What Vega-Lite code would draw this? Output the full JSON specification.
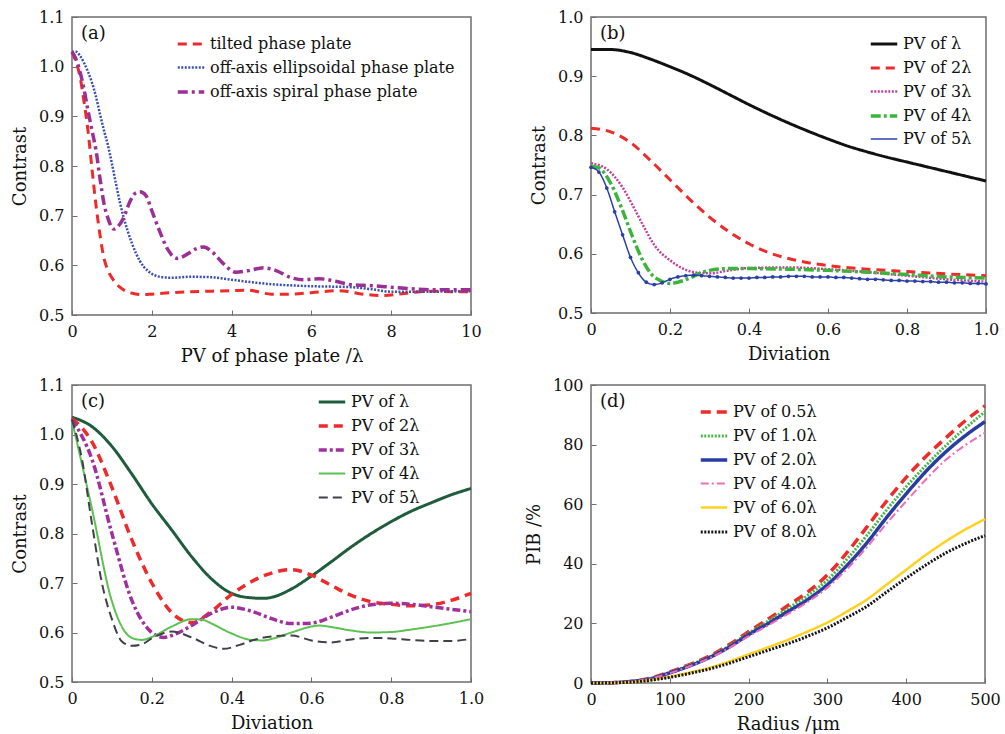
{
 "$schema": "https://vega.github.io/schema/vega-lite/v6.json",
 "background": "white",
 "padding": {"left": 10, "top": 8, "right": 5, "bottom": 3},
 "columns": 2,
 "bounds": "flush",
 "spacing": {"row": 70, "column": 120},
 "resolve": {"scale": {"color": "independent", "strokeDash": "independent", "strokeWidth": "independent"}, "legend": {"color": "independent", "strokeDash": "independent", "strokeWidth": "independent"}},
 "config": {
  "font": "DejaVu Serif",
  "view": {"stroke": "#6e6e6e", "strokeWidth": 1.5},
  "axis": {"domain": false, "grid": false, "labelFont": "DejaVu Serif", "labelFontSize": 16, "labelColor": "#111", "labelFlush": false, "labelOverlap": false, "titleFont": "DejaVu Serif", "titleFontSize": 18, "titleFontWeight": "normal", "titleColor": "#111", "tickColor": "#6e6e6e", "tickSize": -5, "labelPadding": 13, "titlePadding": 8},
  "axisY": {"titlePadding": 9},
  "legend": {"labelFont": "DejaVu Serif", "labelFontSize": 16, "labelColor": "#111", "labelLimit": 500, "symbolType": "stroke", "symbolSize": 700, "rowPadding": 1, "padding": 0, "labelOffset": 4},
  "title": {"font": "DejaVu Serif", "fontSize": 18, "fontWeight": "normal", "color": "#111", "anchor": "start", "frame": "group", "baseline": "top", "offset": -34, "dx": 9}
 },
 "datasets": {
  "a": [
   {"s":"tilted phase plate","x":0,"y":1.03},{"s":"tilted phase plate","x":0.1,"y":1.01},{"s":"tilted phase plate","x":0.2,"y":0.98},{"s":"tilted phase plate","x":0.3,"y":0.93},{"s":"tilted phase plate","x":0.4,"y":0.872},{"s":"tilted phase plate","x":0.5,"y":0.795},{"s":"tilted phase plate","x":0.6,"y":0.722},{"s":"tilted phase plate","x":0.7,"y":0.662},{"s":"tilted phase plate","x":0.8,"y":0.615},{"s":"tilted phase plate","x":0.9,"y":0.59},{"s":"tilted phase plate","x":1.0,"y":0.575},{"s":"tilted phase plate","x":1.2,"y":0.556},{"s":"tilted phase plate","x":1.5,"y":0.544},{"s":"tilted phase plate","x":1.75,"y":0.541},{"s":"tilted phase plate","x":2,"y":0.542},{"s":"tilted phase plate","x":2.5,"y":0.545},{"s":"tilted phase plate","x":3,"y":0.547},{"s":"tilted phase plate","x":3.5,"y":0.548},{"s":"tilted phase plate","x":4,"y":0.549},{"s":"tilted phase plate","x":4.4,"y":0.55},{"s":"tilted phase plate","x":5,"y":0.542},{"s":"tilted phase plate","x":5.5,"y":0.542},{"s":"tilted phase plate","x":6,"y":0.545},{"s":"tilted phase plate","x":6.7,"y":0.549},{"s":"tilted phase plate","x":7.3,"y":0.542},{"s":"tilted phase plate","x":7.8,"y":0.539},{"s":"tilted phase plate","x":8.2,"y":0.542},{"s":"tilted phase plate","x":8.6,"y":0.546},{"s":"tilted phase plate","x":9,"y":0.548},{"s":"tilted phase plate","x":9.5,"y":0.547},{"s":"tilted phase plate","x":10,"y":0.547},
   {"s":"off-axis ellipsoidal phase plate","x":0,"y":1.03},{"s":"off-axis ellipsoidal phase plate","x":0.1,"y":1.03},{"s":"off-axis ellipsoidal phase plate","x":0.2,"y":1.022},{"s":"off-axis ellipsoidal phase plate","x":0.3,"y":1.008},{"s":"off-axis ellipsoidal phase plate","x":0.4,"y":0.99},{"s":"off-axis ellipsoidal phase plate","x":0.5,"y":0.968},{"s":"off-axis ellipsoidal phase plate","x":0.6,"y":0.94},{"s":"off-axis ellipsoidal phase plate","x":0.7,"y":0.905},{"s":"off-axis ellipsoidal phase plate","x":0.8,"y":0.872},{"s":"off-axis ellipsoidal phase plate","x":0.9,"y":0.842},{"s":"off-axis ellipsoidal phase plate","x":1.0,"y":0.805},{"s":"off-axis ellipsoidal phase plate","x":1.1,"y":0.765},{"s":"off-axis ellipsoidal phase plate","x":1.2,"y":0.727},{"s":"off-axis ellipsoidal phase plate","x":1.3,"y":0.695},{"s":"off-axis ellipsoidal phase plate","x":1.4,"y":0.668},{"s":"off-axis ellipsoidal phase plate","x":1.5,"y":0.645},{"s":"off-axis ellipsoidal phase plate","x":1.6,"y":0.625},{"s":"off-axis ellipsoidal phase plate","x":1.7,"y":0.609},{"s":"off-axis ellipsoidal phase plate","x":1.8,"y":0.597},{"s":"off-axis ellipsoidal phase plate","x":1.9,"y":0.589},{"s":"off-axis ellipsoidal phase plate","x":2.0,"y":0.583},{"s":"off-axis ellipsoidal phase plate","x":2.2,"y":0.577},{"s":"off-axis ellipsoidal phase plate","x":2.5,"y":0.575},{"s":"off-axis ellipsoidal phase plate","x":3.0,"y":0.577},{"s":"off-axis ellipsoidal phase plate","x":3.5,"y":0.576},{"s":"off-axis ellipsoidal phase plate","x":4.0,"y":0.571},{"s":"off-axis ellipsoidal phase plate","x":4.5,"y":0.566},{"s":"off-axis ellipsoidal phase plate","x":5.0,"y":0.562},{"s":"off-axis ellipsoidal phase plate","x":6.0,"y":0.558},{"s":"off-axis ellipsoidal phase plate","x":7.0,"y":0.556},{"s":"off-axis ellipsoidal phase plate","x":7.5,"y":0.552},{"s":"off-axis ellipsoidal phase plate","x":8.0,"y":0.547},{"s":"off-axis ellipsoidal phase plate","x":9.0,"y":0.547},{"s":"off-axis ellipsoidal phase plate","x":10,"y":0.548},
   {"s":"off-axis spiral phase plate","x":0,"y":1.03},{"s":"off-axis spiral phase plate","x":0.1,"y":1.015},{"s":"off-axis spiral phase plate","x":0.2,"y":0.99},{"s":"off-axis spiral phase plate","x":0.3,"y":0.955},{"s":"off-axis spiral phase plate","x":0.4,"y":0.912},{"s":"off-axis spiral phase plate","x":0.5,"y":0.872},{"s":"off-axis spiral phase plate","x":0.6,"y":0.832},{"s":"off-axis spiral phase plate","x":0.7,"y":0.776},{"s":"off-axis spiral phase plate","x":0.8,"y":0.725},{"s":"off-axis spiral phase plate","x":0.9,"y":0.695},{"s":"off-axis spiral phase plate","x":1.0,"y":0.676},{"s":"off-axis spiral phase plate","x":1.05,"y":0.673},{"s":"off-axis spiral phase plate","x":1.15,"y":0.678},{"s":"off-axis spiral phase plate","x":1.3,"y":0.697},{"s":"off-axis spiral phase plate","x":1.45,"y":0.728},{"s":"off-axis spiral phase plate","x":1.6,"y":0.746},{"s":"off-axis spiral phase plate","x":1.7,"y":0.748},{"s":"off-axis spiral phase plate","x":1.85,"y":0.741},{"s":"off-axis spiral phase plate","x":2.0,"y":0.71},{"s":"off-axis spiral phase plate","x":2.2,"y":0.668},{"s":"off-axis spiral phase plate","x":2.4,"y":0.632},{"s":"off-axis spiral phase plate","x":2.64,"y":0.614},{"s":"off-axis spiral phase plate","x":2.9,"y":0.623},{"s":"off-axis spiral phase plate","x":3.1,"y":0.633},{"s":"off-axis spiral phase plate","x":3.3,"y":0.637},{"s":"off-axis spiral phase plate","x":3.5,"y":0.628},{"s":"off-axis spiral phase plate","x":3.8,"y":0.603},{"s":"off-axis spiral phase plate","x":4.1,"y":0.586},{"s":"off-axis spiral phase plate","x":4.4,"y":0.589},{"s":"off-axis spiral phase plate","x":4.8,"y":0.595},{"s":"off-axis spiral phase plate","x":5.1,"y":0.59},{"s":"off-axis spiral phase plate","x":5.5,"y":0.575},{"s":"off-axis spiral phase plate","x":5.8,"y":0.571},{"s":"off-axis spiral phase plate","x":6.2,"y":0.573},{"s":"off-axis spiral phase plate","x":6.6,"y":0.568},{"s":"off-axis spiral phase plate","x":7.0,"y":0.561},{"s":"off-axis spiral phase plate","x":7.5,"y":0.559},{"s":"off-axis spiral phase plate","x":8.0,"y":0.556},{"s":"off-axis spiral phase plate","x":8.5,"y":0.553},{"s":"off-axis spiral phase plate","x":9.0,"y":0.551},{"s":"off-axis spiral phase plate","x":10,"y":0.551}
  ],
  "b": [
   {"s":"PV of λ","x":0,"y":0.945},{"s":"PV of λ","x":0.05,"y":0.945},{"s":"PV of λ","x":0.1,"y":0.94},{"s":"PV of λ","x":0.15,"y":0.929},{"s":"PV of λ","x":0.2,"y":0.916},{"s":"PV of λ","x":0.25,"y":0.902},{"s":"PV of λ","x":0.3,"y":0.886},{"s":"PV of λ","x":0.35,"y":0.869},{"s":"PV of λ","x":0.4,"y":0.852},{"s":"PV of λ","x":0.45,"y":0.836},{"s":"PV of λ","x":0.5,"y":0.821},{"s":"PV of λ","x":0.55,"y":0.807},{"s":"PV of λ","x":0.6,"y":0.794},{"s":"PV of λ","x":0.65,"y":0.782},{"s":"PV of λ","x":0.7,"y":0.772},{"s":"PV of λ","x":0.75,"y":0.763},{"s":"PV of λ","x":0.8,"y":0.755},{"s":"PV of λ","x":0.85,"y":0.747},{"s":"PV of λ","x":0.9,"y":0.739},{"s":"PV of λ","x":0.95,"y":0.731},{"s":"PV of λ","x":1.0,"y":0.723},
   {"s":"PV of 2λ","x":0,"y":0.812},{"s":"PV of 2λ","x":0.05,"y":0.806},{"s":"PV of 2λ","x":0.1,"y":0.788},{"s":"PV of 2λ","x":0.15,"y":0.758},{"s":"PV of 2λ","x":0.2,"y":0.725},{"s":"PV of 2λ","x":0.25,"y":0.692},{"s":"PV of 2λ","x":0.3,"y":0.662},{"s":"PV of 2λ","x":0.35,"y":0.637},{"s":"PV of 2λ","x":0.4,"y":0.617},{"s":"PV of 2λ","x":0.45,"y":0.602},{"s":"PV of 2λ","x":0.5,"y":0.592},{"s":"PV of 2λ","x":0.55,"y":0.585},{"s":"PV of 2λ","x":0.6,"y":0.58},{"s":"PV of 2λ","x":0.7,"y":0.574},{"s":"PV of 2λ","x":0.8,"y":0.57},{"s":"PV of 2λ","x":0.9,"y":0.566},{"s":"PV of 2λ","x":1.0,"y":0.563},
   {"s":"PV of 3λ","x":0,"y":0.753},{"s":"PV of 3λ","x":0.04,"y":0.743},{"s":"PV of 3λ","x":0.08,"y":0.712},{"s":"PV of 3λ","x":0.11,"y":0.676},{"s":"PV of 3λ","x":0.14,"y":0.638},{"s":"PV of 3λ","x":0.16,"y":0.615},{"s":"PV of 3λ","x":0.2,"y":0.589},{"s":"PV of 3λ","x":0.23,"y":0.576},{"s":"PV of 3λ","x":0.26,"y":0.569},{"s":"PV of 3λ","x":0.3,"y":0.567},{"s":"PV of 3λ","x":0.35,"y":0.572},{"s":"PV of 3λ","x":0.4,"y":0.576},{"s":"PV of 3λ","x":0.5,"y":0.577},{"s":"PV of 3λ","x":0.6,"y":0.574},{"s":"PV of 3λ","x":0.7,"y":0.569},{"s":"PV of 3λ","x":0.8,"y":0.563},{"s":"PV of 3λ","x":0.9,"y":0.557},{"s":"PV of 3λ","x":1.0,"y":0.553},
   {"s":"PV of 4λ","x":0,"y":0.748},{"s":"PV of 4λ","x":0.02,"y":0.745},{"s":"PV of 4λ","x":0.05,"y":0.719},{"s":"PV of 4λ","x":0.08,"y":0.673},{"s":"PV of 4λ","x":0.105,"y":0.629},{"s":"PV of 4λ","x":0.13,"y":0.59},{"s":"PV of 4λ","x":0.155,"y":0.564},{"s":"PV of 4λ","x":0.175,"y":0.555},{"s":"PV of 4λ","x":0.2,"y":0.55},{"s":"PV of 4λ","x":0.22,"y":0.552},{"s":"PV of 4λ","x":0.25,"y":0.559},{"s":"PV of 4λ","x":0.275,"y":0.567},{"s":"PV of 4λ","x":0.3,"y":0.572},{"s":"PV of 4λ","x":0.35,"y":0.575},{"s":"PV of 4λ","x":0.4,"y":0.575},{"s":"PV of 4λ","x":0.5,"y":0.574},{"s":"PV of 4λ","x":0.6,"y":0.572},{"s":"PV of 4λ","x":0.7,"y":0.569},{"s":"PV of 4λ","x":0.8,"y":0.565},{"s":"PV of 4λ","x":0.9,"y":0.561},{"s":"PV of 4λ","x":1.0,"y":0.559},
   {"s":"PV of 5λ","x":0,"y":0.746},{"s":"PV of 5λ","x":0.02,"y":0.738},{"s":"PV of 5λ","x":0.04,"y":0.711},{"s":"PV of 5λ","x":0.06,"y":0.671},{"s":"PV of 5λ","x":0.08,"y":0.632},{"s":"PV of 5λ","x":0.1,"y":0.594},{"s":"PV of 5λ","x":0.12,"y":0.568},{"s":"PV of 5λ","x":0.14,"y":0.552},{"s":"PV of 5λ","x":0.16,"y":0.548},{"s":"PV of 5λ","x":0.18,"y":0.551},{"s":"PV of 5λ","x":0.2,"y":0.557},{"s":"PV of 5λ","x":0.22,"y":0.561},{"s":"PV of 5λ","x":0.24,"y":0.563},{"s":"PV of 5λ","x":0.26,"y":0.564},{"s":"PV of 5λ","x":0.28,"y":0.563},{"s":"PV of 5λ","x":0.3,"y":0.562},{"s":"PV of 5λ","x":0.32,"y":0.561},{"s":"PV of 5λ","x":0.34,"y":0.56},{"s":"PV of 5λ","x":0.36,"y":0.559},{"s":"PV of 5λ","x":0.38,"y":0.559},{"s":"PV of 5λ","x":0.4,"y":0.559},{"s":"PV of 5λ","x":0.42,"y":0.56},{"s":"PV of 5λ","x":0.44,"y":0.56},{"s":"PV of 5λ","x":0.46,"y":0.561},{"s":"PV of 5λ","x":0.48,"y":0.561},{"s":"PV of 5λ","x":0.5,"y":0.562},{"s":"PV of 5λ","x":0.52,"y":0.562},{"s":"PV of 5λ","x":0.54,"y":0.562},{"s":"PV of 5λ","x":0.56,"y":0.561},{"s":"PV of 5λ","x":0.58,"y":0.561},{"s":"PV of 5λ","x":0.6,"y":0.561},{"s":"PV of 5λ","x":0.62,"y":0.56},{"s":"PV of 5λ","x":0.64,"y":0.56},{"s":"PV of 5λ","x":0.66,"y":0.559},{"s":"PV of 5λ","x":0.68,"y":0.558},{"s":"PV of 5λ","x":0.7,"y":0.557},{"s":"PV of 5λ","x":0.72,"y":0.557},{"s":"PV of 5λ","x":0.74,"y":0.556},{"s":"PV of 5λ","x":0.76,"y":0.555},{"s":"PV of 5λ","x":0.78,"y":0.555},{"s":"PV of 5λ","x":0.8,"y":0.554},{"s":"PV of 5λ","x":0.82,"y":0.554},{"s":"PV of 5λ","x":0.84,"y":0.553},{"s":"PV of 5λ","x":0.86,"y":0.553},{"s":"PV of 5λ","x":0.88,"y":0.552},{"s":"PV of 5λ","x":0.9,"y":0.552},{"s":"PV of 5λ","x":0.92,"y":0.551},{"s":"PV of 5λ","x":0.94,"y":0.551},{"s":"PV of 5λ","x":0.96,"y":0.55},{"s":"PV of 5λ","x":0.98,"y":0.55},{"s":"PV of 5λ","x":1.0,"y":0.549}
  ],
  "c": [
   {"s":"PV of λ","x":0,"y":1.035},{"s":"PV of λ","x":0.05,"y":1.016},{"s":"PV of λ","x":0.1,"y":0.976},{"s":"PV of λ","x":0.15,"y":0.92},{"s":"PV of λ","x":0.2,"y":0.86},{"s":"PV of λ","x":0.25,"y":0.807},{"s":"PV of λ","x":0.3,"y":0.753},{"s":"PV of λ","x":0.35,"y":0.708},{"s":"PV of λ","x":0.4,"y":0.679},{"s":"PV of λ","x":0.45,"y":0.67},{"s":"PV of λ","x":0.48,"y":0.669},{"s":"PV of λ","x":0.5,"y":0.671},{"s":"PV of λ","x":0.55,"y":0.688},{"s":"PV of λ","x":0.6,"y":0.714},{"s":"PV of λ","x":0.65,"y":0.743},{"s":"PV of λ","x":0.7,"y":0.773},{"s":"PV of λ","x":0.75,"y":0.8},{"s":"PV of λ","x":0.8,"y":0.824},{"s":"PV of λ","x":0.85,"y":0.845},{"s":"PV of λ","x":0.9,"y":0.862},{"s":"PV of λ","x":0.95,"y":0.878},{"s":"PV of λ","x":1.0,"y":0.891},
   {"s":"PV of 2λ","x":0,"y":1.033},{"s":"PV of 2λ","x":0.05,"y":0.985},{"s":"PV of 2λ","x":0.1,"y":0.893},{"s":"PV of 2λ","x":0.15,"y":0.787},{"s":"PV of 2λ","x":0.2,"y":0.7},{"s":"PV of 2λ","x":0.25,"y":0.64},{"s":"PV of 2λ","x":0.3,"y":0.62},{"s":"PV of 2λ","x":0.35,"y":0.643},{"s":"PV of 2λ","x":0.4,"y":0.677},{"s":"PV of 2λ","x":0.45,"y":0.703},{"s":"PV of 2λ","x":0.5,"y":0.72},{"s":"PV of 2λ","x":0.55,"y":0.727},{"s":"PV of 2λ","x":0.6,"y":0.716},{"s":"PV of 2λ","x":0.65,"y":0.695},{"s":"PV of 2λ","x":0.7,"y":0.675},{"s":"PV of 2λ","x":0.75,"y":0.662},{"s":"PV of 2λ","x":0.8,"y":0.657},{"s":"PV of 2λ","x":0.85,"y":0.654},{"s":"PV of 2λ","x":0.9,"y":0.656},{"s":"PV of 2λ","x":0.95,"y":0.665},{"s":"PV of 2λ","x":1.0,"y":0.679},
   {"s":"PV of 3λ","x":0,"y":1.03},{"s":"PV of 3λ","x":0.05,"y":0.95},{"s":"PV of 3λ","x":0.1,"y":0.8},{"s":"PV of 3λ","x":0.15,"y":0.665},{"s":"PV of 3λ","x":0.2,"y":0.6},{"s":"PV of 3λ","x":0.23,"y":0.59},{"s":"PV of 3λ","x":0.25,"y":0.594},{"s":"PV of 3λ","x":0.3,"y":0.614},{"s":"PV of 3λ","x":0.35,"y":0.639},{"s":"PV of 3λ","x":0.4,"y":0.651},{"s":"PV of 3λ","x":0.45,"y":0.643},{"s":"PV of 3λ","x":0.5,"y":0.628},{"s":"PV of 3λ","x":0.55,"y":0.618},{"s":"PV of 3λ","x":0.6,"y":0.619},{"s":"PV of 3λ","x":0.65,"y":0.631},{"s":"PV of 3λ","x":0.7,"y":0.646},{"s":"PV of 3λ","x":0.75,"y":0.656},{"s":"PV of 3λ","x":0.8,"y":0.659},{"s":"PV of 3λ","x":0.85,"y":0.657},{"s":"PV of 3λ","x":0.9,"y":0.652},{"s":"PV of 3λ","x":0.95,"y":0.647},{"s":"PV of 3λ","x":1.0,"y":0.642},
   {"s":"PV of 4λ","x":0,"y":1.028},{"s":"PV of 4λ","x":0.05,"y":0.85},{"s":"PV of 4λ","x":0.1,"y":0.663},{"s":"PV of 4λ","x":0.15,"y":0.589},{"s":"PV of 4λ","x":0.175,"y":0.585},{"s":"PV of 4λ","x":0.2,"y":0.591},{"s":"PV of 4λ","x":0.25,"y":0.612},{"s":"PV of 4λ","x":0.3,"y":0.627},{"s":"PV of 4λ","x":0.33,"y":0.625},{"s":"PV of 4λ","x":0.35,"y":0.618},{"s":"PV of 4λ","x":0.4,"y":0.598},{"s":"PV of 4λ","x":0.45,"y":0.585},{"s":"PV of 4λ","x":0.48,"y":0.584},{"s":"PV of 4λ","x":0.5,"y":0.587},{"s":"PV of 4λ","x":0.55,"y":0.6},{"s":"PV of 4λ","x":0.6,"y":0.612},{"s":"PV of 4λ","x":0.62,"y":0.614},{"s":"PV of 4λ","x":0.65,"y":0.611},{"s":"PV of 4λ","x":0.7,"y":0.604},{"s":"PV of 4λ","x":0.75,"y":0.6},{"s":"PV of 4λ","x":0.8,"y":0.601},{"s":"PV of 4λ","x":0.85,"y":0.606},{"s":"PV of 4λ","x":0.9,"y":0.612},{"s":"PV of 4λ","x":0.95,"y":0.619},{"s":"PV of 4λ","x":1.0,"y":0.627},
   {"s":"PV of 5λ","x":0,"y":1.03},{"s":"PV of 5λ","x":0.025,"y":0.95},{"s":"PV of 5λ","x":0.05,"y":0.82},{"s":"PV of 5λ","x":0.075,"y":0.7},{"s":"PV of 5λ","x":0.1,"y":0.627},{"s":"PV of 5λ","x":0.125,"y":0.582},{"s":"PV of 5λ","x":0.15,"y":0.573},{"s":"PV of 5λ","x":0.175,"y":0.576},{"s":"PV of 5λ","x":0.2,"y":0.588},{"s":"PV of 5λ","x":0.25,"y":0.602},{"s":"PV of 5λ","x":0.3,"y":0.59},{"s":"PV of 5λ","x":0.35,"y":0.572},{"s":"PV of 5λ","x":0.38,"y":0.567},{"s":"PV of 5λ","x":0.42,"y":0.575},{"s":"PV of 5λ","x":0.46,"y":0.586},{"s":"PV of 5λ","x":0.5,"y":0.592},{"s":"PV of 5λ","x":0.55,"y":0.594},{"s":"PV of 5λ","x":0.6,"y":0.584},{"s":"PV of 5λ","x":0.65,"y":0.58},{"s":"PV of 5λ","x":0.7,"y":0.586},{"s":"PV of 5λ","x":0.75,"y":0.589},{"s":"PV of 5λ","x":0.8,"y":0.588},{"s":"PV of 5λ","x":0.85,"y":0.585},{"s":"PV of 5λ","x":0.9,"y":0.583},{"s":"PV of 5λ","x":0.95,"y":0.583},{"s":"PV of 5λ","x":1.0,"y":0.587}
  ],
  "d": [
   {"s":"PV of 0.5λ","x":0,"y":0},{"s":"PV of 0.5λ","x":25,"y":0.1},{"s":"PV of 0.5λ","x":50,"y":0.5},{"s":"PV of 0.5λ","x":75,"y":1.6},{"s":"PV of 0.5λ","x":100,"y":3.7},{"s":"PV of 0.5λ","x":125,"y":6.2},{"s":"PV of 0.5λ","x":150,"y":9},{"s":"PV of 0.5λ","x":175,"y":12.8},{"s":"PV of 0.5λ","x":200,"y":17.2},{"s":"PV of 0.5λ","x":225,"y":21.5},{"s":"PV of 0.5λ","x":250,"y":26},{"s":"PV of 0.5λ","x":275,"y":30.5},{"s":"PV of 0.5λ","x":300,"y":36.3},{"s":"PV of 0.5λ","x":325,"y":43.8},{"s":"PV of 0.5λ","x":350,"y":52.3},{"s":"PV of 0.5λ","x":375,"y":61},{"s":"PV of 0.5λ","x":400,"y":69},{"s":"PV of 0.5λ","x":425,"y":76},{"s":"PV of 0.5λ","x":450,"y":82.2},{"s":"PV of 0.5λ","x":475,"y":88},{"s":"PV of 0.5λ","x":500,"y":93},
   {"s":"PV of 1.0λ","x":0,"y":0},{"s":"PV of 1.0λ","x":25,"y":0.1},{"s":"PV of 1.0λ","x":50,"y":0.5},{"s":"PV of 1.0λ","x":75,"y":1.5},{"s":"PV of 1.0λ","x":100,"y":3.5},{"s":"PV of 1.0λ","x":125,"y":6},{"s":"PV of 1.0λ","x":150,"y":8.7},{"s":"PV of 1.0λ","x":175,"y":12.4},{"s":"PV of 1.0λ","x":200,"y":16.7},{"s":"PV of 1.0λ","x":225,"y":20.8},{"s":"PV of 1.0λ","x":250,"y":25},{"s":"PV of 1.0λ","x":275,"y":29.4},{"s":"PV of 1.0λ","x":300,"y":34.6},{"s":"PV of 1.0λ","x":325,"y":41.6},{"s":"PV of 1.0λ","x":350,"y":49.5},{"s":"PV of 1.0λ","x":375,"y":58},{"s":"PV of 1.0λ","x":400,"y":65.9},{"s":"PV of 1.0λ","x":425,"y":73},{"s":"PV of 1.0λ","x":450,"y":79.6},{"s":"PV of 1.0λ","x":475,"y":85.5},{"s":"PV of 1.0λ","x":500,"y":91},
   {"s":"PV of 2.0λ","x":0,"y":0},{"s":"PV of 2.0λ","x":25,"y":0.1},{"s":"PV of 2.0λ","x":50,"y":0.5},{"s":"PV of 2.0λ","x":75,"y":1.4},{"s":"PV of 2.0λ","x":100,"y":3.4},{"s":"PV of 2.0λ","x":125,"y":5.7},{"s":"PV of 2.0λ","x":150,"y":8.5},{"s":"PV of 2.0λ","x":175,"y":12},{"s":"PV of 2.0λ","x":200,"y":16.2},{"s":"PV of 2.0λ","x":225,"y":20},{"s":"PV of 2.0λ","x":250,"y":24},{"s":"PV of 2.0λ","x":275,"y":28},{"s":"PV of 2.0λ","x":300,"y":33},{"s":"PV of 2.0λ","x":325,"y":39.5},{"s":"PV of 2.0λ","x":350,"y":47},{"s":"PV of 2.0λ","x":375,"y":55.5},{"s":"PV of 2.0λ","x":400,"y":63.5},{"s":"PV of 2.0λ","x":425,"y":71},{"s":"PV of 2.0λ","x":450,"y":77.5},{"s":"PV of 2.0λ","x":475,"y":83},{"s":"PV of 2.0λ","x":500,"y":87.7},
   {"s":"PV of 4.0λ","x":0,"y":0},{"s":"PV of 4.0λ","x":25,"y":0.1},{"s":"PV of 4.0λ","x":50,"y":0.5},{"s":"PV of 4.0λ","x":75,"y":1.4},{"s":"PV of 4.0λ","x":100,"y":3.3},{"s":"PV of 4.0λ","x":125,"y":5.6},{"s":"PV of 4.0λ","x":150,"y":8.3},{"s":"PV of 4.0λ","x":175,"y":11.7},{"s":"PV of 4.0λ","x":200,"y":15.7},{"s":"PV of 4.0λ","x":225,"y":19.4},{"s":"PV of 4.0λ","x":250,"y":23.2},{"s":"PV of 4.0λ","x":275,"y":27.2},{"s":"PV of 4.0λ","x":300,"y":32},{"s":"PV of 4.0λ","x":325,"y":38.3},{"s":"PV of 4.0λ","x":350,"y":45.5},{"s":"PV of 4.0λ","x":375,"y":53.5},{"s":"PV of 4.0λ","x":400,"y":61},{"s":"PV of 4.0λ","x":425,"y":68.3},{"s":"PV of 4.0λ","x":450,"y":74.8},{"s":"PV of 4.0λ","x":475,"y":79.8},{"s":"PV of 4.0λ","x":500,"y":84},
   {"s":"PV of 6.0λ","x":0,"y":0},{"s":"PV of 6.0λ","x":25,"y":0.05},{"s":"PV of 6.0λ","x":50,"y":0.3},{"s":"PV of 6.0λ","x":75,"y":1},{"s":"PV of 6.0λ","x":100,"y":2.1},{"s":"PV of 6.0λ","x":125,"y":3.5},{"s":"PV of 6.0λ","x":150,"y":5.1},{"s":"PV of 6.0λ","x":175,"y":7.2},{"s":"PV of 6.0λ","x":200,"y":9.6},{"s":"PV of 6.0λ","x":225,"y":12},{"s":"PV of 6.0λ","x":250,"y":14.5},{"s":"PV of 6.0λ","x":275,"y":17.3},{"s":"PV of 6.0λ","x":300,"y":20.3},{"s":"PV of 6.0λ","x":325,"y":24},{"s":"PV of 6.0λ","x":350,"y":28},{"s":"PV of 6.0λ","x":375,"y":33},{"s":"PV of 6.0λ","x":400,"y":38},{"s":"PV of 6.0λ","x":425,"y":43},{"s":"PV of 6.0λ","x":450,"y":47.5},{"s":"PV of 6.0λ","x":475,"y":51.5},{"s":"PV of 6.0λ","x":500,"y":55},
   {"s":"PV of 8.0λ","x":0,"y":0},{"s":"PV of 8.0λ","x":25,"y":0.05},{"s":"PV of 8.0λ","x":50,"y":0.3},{"s":"PV of 8.0λ","x":75,"y":0.9},{"s":"PV of 8.0λ","x":100,"y":1.9},{"s":"PV of 8.0λ","x":125,"y":3.2},{"s":"PV of 8.0λ","x":150,"y":4.7},{"s":"PV of 8.0λ","x":175,"y":6.6},{"s":"PV of 8.0λ","x":200,"y":8.8},{"s":"PV of 8.0λ","x":225,"y":11},{"s":"PV of 8.0λ","x":250,"y":13.2},{"s":"PV of 8.0λ","x":275,"y":15.7},{"s":"PV of 8.0λ","x":300,"y":18.5},{"s":"PV of 8.0λ","x":325,"y":22},{"s":"PV of 8.0λ","x":350,"y":25.7},{"s":"PV of 8.0λ","x":375,"y":30.5},{"s":"PV of 8.0λ","x":400,"y":35.2},{"s":"PV of 8.0λ","x":425,"y":39.6},{"s":"PV of 8.0λ","x":450,"y":43.6},{"s":"PV of 8.0λ","x":475,"y":46.8},{"s":"PV of 8.0λ","x":500,"y":49.5}
  ]
 },
 "concat": [
  {
   "width": 399, "height": 298,
   "title": {"text": "(a)"},
   "data": {"name": "a"},
   "mark": {"type": "line", "interpolate": "monotone"},
   "encoding": {
    "x": {"field": "x", "type": "quantitative", "scale": {"domain": [0, 10], "nice": false}, "axis": {"title": "PV of phase plate /λ", "values": [0, 2, 4, 6, 8, 10]}},
    "y": {"field": "y", "type": "quantitative", "scale": {"domain": [0.5, 1.1], "nice": false, "zero": false}, "axis": {"title": "Contrast", "values": [0.5, 0.6, 0.7, 0.8, 0.9, 1.0, 1.1], "format": ".1f"}},
    "color": {"field": "s", "type": "nominal", "title": null, "scale": {"domain": ["tilted phase plate", "off-axis ellipsoidal phase plate", "off-axis spiral phase plate"], "range": ["#ee2a2a", "#3a4fb0", "#9c2f96"]}, "legend": {"orient": "none", "legendX": 104, "legendY": 12}},
    "strokeDash": {"field": "s", "type": "nominal", "title": null, "scale": {"domain": ["tilted phase plate", "off-axis ellipsoidal phase plate", "off-axis spiral phase plate"], "range": [[9, 6], [2, 1.5], [10, 4, 3, 4]]}, "legend": {"orient": "none", "legendX": 104, "legendY": 12}},
    "strokeWidth": {"field": "s", "type": "nominal", "title": null, "scale": {"type": "ordinal", "domain": ["tilted phase plate", "off-axis ellipsoidal phase plate", "off-axis spiral phase plate"], "range": [3, 2.5, 3.5]}, "legend": {"orient": "none", "legendX": 104, "legendY": 12}}
   }
  },
  {
   "width": 395, "height": 296,
   "title": {"text": "(b)"},
   "data": {"name": "b"},
   "encoding": {
    "x": {"field": "x", "type": "quantitative", "scale": {"domain": [0, 1], "nice": false}, "axis": {"title": "Diviation", "values": [0, 0.2, 0.4, 0.6, 0.8, 1.0], "labelExpr": "datum.value == 0 ? '0' : format(datum.value, '.1f')"}},
    "y": {"field": "y", "type": "quantitative", "scale": {"domain": [0.5, 1.0], "nice": false, "zero": false}, "axis": {"title": "Contrast", "values": [0.5, 0.6, 0.7, 0.8, 0.9, 1.0], "format": ".1f"}}
   },
   "layer": [
    {
     "mark": {"type": "line", "interpolate": "monotone"},
     "encoding": {
      "color": {"field": "s", "type": "nominal", "title": null, "scale": {"domain": ["PV of λ", "PV of 2λ", "PV of 3λ", "PV of 4λ", "PV of 5λ"], "range": ["#111111", "#ee2a2a", "#c0409c", "#3cb43c", "#2b3fa8"]}, "legend": {"orient": "none", "legendX": 278, "legendY": 12}},
      "strokeDash": {"field": "s", "type": "nominal", "title": null, "scale": {"domain": ["PV of λ", "PV of 2λ", "PV of 3λ", "PV of 4λ", "PV of 5λ"], "range": [[1, 0], [9, 6], [2, 1.5], [10, 3, 3, 3], [1, 0]]}, "legend": {"orient": "none", "legendX": 278, "legendY": 12}},
      "strokeWidth": {"field": "s", "type": "nominal", "title": null, "scale": {"type": "ordinal", "domain": ["PV of λ", "PV of 2λ", "PV of 3λ", "PV of 4λ", "PV of 5λ"], "range": [3, 3, 2.5, 3.5, 1.5]}, "legend": {"orient": "none", "legendX": 278, "legendY": 12}}
     }
    },
    {
     "transform": [{"filter": "datum.s == 'PV of 5λ'"}],
     "mark": {"type": "point", "filled": true, "size": 14, "opacity": 1, "color": "#2b3fa8"}
    }
   ]
  },
  {
   "width": 399, "height": 297,
   "title": {"text": "(c)"},
   "data": {"name": "c"},
   "mark": {"type": "line", "interpolate": "monotone"},
   "encoding": {
    "x": {"field": "x", "type": "quantitative", "scale": {"domain": [0, 1], "nice": false}, "axis": {"title": "Diviation", "values": [0, 0.2, 0.4, 0.6, 0.8, 1.0], "labelExpr": "datum.value == 0 ? '0' : format(datum.value, '.1f')"}},
    "y": {"field": "y", "type": "quantitative", "scale": {"domain": [0.5, 1.1], "nice": false, "zero": false}, "axis": {"title": "Contrast", "values": [0.5, 0.6, 0.7, 0.8, 0.9, 1.0, 1.1], "format": ".1f"}},
    "color": {"field": "s", "type": "nominal", "title": null, "scale": {"domain": ["PV of λ", "PV of 2λ", "PV of 3λ", "PV of 4λ", "PV of 5λ"], "range": ["#1f5c3c", "#ee2a2a", "#a0309c", "#5cc052", "#404048"]}, "legend": {"orient": "none", "legendX": 245, "legendY": 2}},
    "strokeDash": {"field": "s", "type": "nominal", "title": null, "scale": {"domain": ["PV of λ", "PV of 2λ", "PV of 3λ", "PV of 4λ", "PV of 5λ"], "range": [[1, 0], [9, 6], [8, 3, 3, 3], [1, 0], [9, 5]]}, "legend": {"orient": "none", "legendX": 245, "legendY": 2}},
    "strokeWidth": {"field": "s", "type": "nominal", "title": null, "scale": {"type": "ordinal", "domain": ["PV of λ", "PV of 2λ", "PV of 3λ", "PV of 4λ", "PV of 5λ"], "range": [3, 3.5, 3.5, 2, 2]}, "legend": {"orient": "none", "legendX": 245, "legendY": 2}}
   }
  },
  {
   "width": 394, "height": 298,
   "title": {"text": "(d)"},
   "data": {"name": "d"},
   "mark": {"type": "line", "interpolate": "monotone"},
   "encoding": {
    "x": {"field": "x", "type": "quantitative", "scale": {"domain": [0, 500], "nice": false}, "axis": {"title": "Radius /μm", "values": [0, 100, 200, 300, 400, 500]}},
    "y": {"field": "y", "type": "quantitative", "scale": {"domain": [0, 100], "nice": false}, "axis": {"title": "PIB /%", "values": [0, 20, 40, 60, 80, 100]}},
    "color": {"field": "s", "type": "nominal", "title": null, "scale": {"domain": ["PV of 0.5λ", "PV of 1.0λ", "PV of 2.0λ", "PV of 4.0λ", "PV of 6.0λ", "PV of 8.0λ"], "range": ["#ee2a2a", "#48b848", "#2a3ca0", "#f06cb8", "#ffd21e", "#151515"]}, "legend": {"orient": "none", "legendX": 108, "legendY": 12}},
    "strokeDash": {"field": "s", "type": "nominal", "title": null, "scale": {"domain": ["PV of 0.5λ", "PV of 1.0λ", "PV of 2.0λ", "PV of 4.0λ", "PV of 6.0λ", "PV of 8.0λ"], "range": [[10, 6], [2, 1.5], [1, 0], [8, 3, 2, 3], [1, 0], [2, 1.5]]}, "legend": {"orient": "none", "legendX": 108, "legendY": 12}},
    "strokeWidth": {"field": "s", "type": "nominal", "title": null, "scale": {"type": "ordinal", "domain": ["PV of 0.5λ", "PV of 1.0λ", "PV of 2.0λ", "PV of 4.0λ", "PV of 6.0λ", "PV of 8.0λ"], "range": [3.5, 3, 3.5, 2, 2.5, 3]}, "legend": {"orient": "none", "legendX": 108, "legendY": 12}}
   }
  }
 ]
}
